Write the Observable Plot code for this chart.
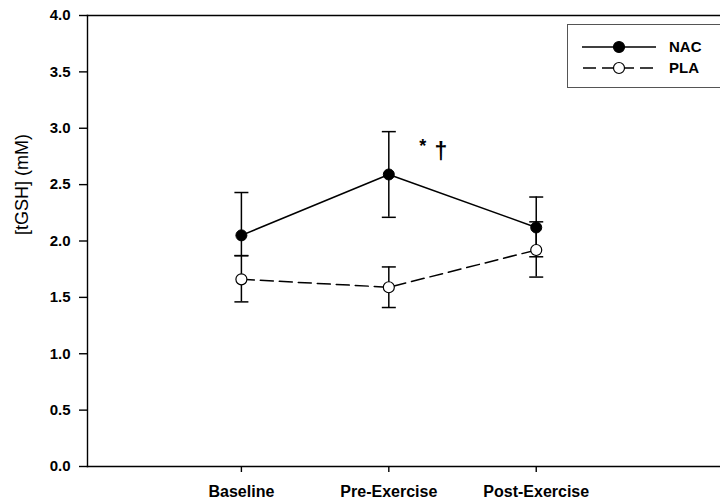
<!DOCTYPE html>
<html>
<head>
<meta charset="utf-8">
<script src="https://cdn.jsdelivr.net/npm/d3@7"></script>
<script src="https://cdn.jsdelivr.net/npm/@observablehq/plot@0.6"></script>
<style>
  html, body { margin: 0; padding: 0; background: #fff; overflow: hidden; }
  #wrap { position: relative; width: 720px; height: 504px; font-family: "Liberation Sans", Arial, sans-serif; }
  #legend { position: absolute; left: 567px; top: 24px; width: 170px; height: 64px; border: 1px solid #555; background: #fff; box-sizing: border-box; }
  #legend .row { position: absolute; left: 0; height: 20px; }
  #legend .lab { position: absolute; left: 101px; font-weight: bold; font-size: 15px; color: #000; line-height: 20px; }
</style>
</head>
<body>
<div id="wrap"></div>
<script>
// ---- data ----
const categories = ["Baseline", "Pre-Exercise", "Post-Exercise"];
const nacMean  = [2.05, 2.59, 2.12];
const nacUpper = [2.43, 2.97, 2.39];
const nacLower = [1.87, 2.21, 1.86];
const plaMean  = [1.66, 1.59, 1.92];
const plaUpper = [1.87, 1.77, 2.17];
const plaLower = [1.46, 1.41, 1.68];
const yTicks = [0, 0.5, 1, 1.5, 2, 2.5, 3, 3.5, 4];
const seriesNames = ["NAC", "PLA"];
const yLabel = "[tGSH] (mM)";
const annotations = [
  {cat: "Pre-Exercise", y: 2.84, text: "*", size: 18},
  {cat: "Pre-Exercise", y: 2.79, text: "†", size: 23}
];

// ---- build tables ----
const idx = c => categories.indexOf(c) + 1;
const nac = categories.map((c, i) => ({x: i + 1, y: nacMean[i], lo: nacLower[i], hi: nacUpper[i]}));
const pla = categories.map((c, i) => ({x: i + 1, y: plaMean[i], lo: plaLower[i], hi: plaUpper[i]}));
const ann = annotations.map(a => ({...a, x: idx(a.cat)}));

const capSymbol = {
  draw(ctx, size) {
    const w = Math.sqrt(size / Math.PI);
    ctx.moveTo(-w, 0);
    ctx.lineTo(w, 0);
  }
};

const sw = 1.5;
function errorMarks(data) {
  return [
    Plot.ruleX(data, {x: "x", y1: "lo", y2: "hi", stroke: "#000", strokeWidth: sw}),
    Plot.dot(data, {x: "x", y: "hi", symbol: capSymbol, r: 7, stroke: "#000", strokeWidth: sw, fill: "none"}),
    Plot.dot(data, {x: "x", y: "lo", symbol: capSymbol, r: 7, stroke: "#000", strokeWidth: sw, fill: "none"})
  ];
}

const chart = Plot.plot({
  width: 720,
  height: 504,
  marginLeft: 87,
  marginRight: 0,
  marginTop: 15,
  marginBottom: 38,
  style: {fontFamily: "'Liberation Sans', Arial, sans-serif", fontSize: "15px", color: "#000", background: "#fff"},
  x: {type: "linear", domain: [-0.044, 4.25]},
  y: {domain: [0, 4]},
  marks: [
    Plot.frame({anchor: "left", stroke: "#000", strokeWidth: 1.4}),
    Plot.frame({anchor: "top", stroke: "#000", strokeWidth: 1.4}),
    Plot.frame({anchor: "bottom", stroke: "#000", strokeWidth: 1.4}),
    Plot.axisY({ticks: yTicks, tickFormat: d3.format(".1f"), tickSize: 8, tickPadding: 9, fontWeight: "bold", fontSize: 15, label: null, strokeWidth: 1.4}),
    Plot.axisX({ticks: [1, 2, 3], tickFormat: i => categories[i - 1], tickSize: 6, tickPadding: 13, fontWeight: "bold", fontSize: 16, label: null, strokeWidth: 1.4}),
    Plot.text([yLabel], {text: d => d, frameAnchor: "left", rotate: -90, dx: -65, dy: -6, fontSize: 18}),
    ...errorMarks(pla),
    ...errorMarks(nac),
    Plot.line(nac, {x: "x", y: "y", stroke: "#000", strokeWidth: sw}),
    Plot.line(pla, {x: "x", y: "y", stroke: "#000", strokeWidth: sw, strokeDasharray: "13,6"}),
    Plot.dot(pla, {x: "x", y: "y", r: 5.5, fill: "#fff", stroke: "#000", strokeWidth: 1.2}),
    Plot.dot(nac, {x: "x", y: "y", r: 5.5, fill: "#000", stroke: "#000", strokeWidth: 1}),
    Plot.text(ann.filter(a => a.text === "*"), {x: "x", y: "y", text: "text", dx: 34, fontSize: 18, fontWeight: "bold"}),
    Plot.text(ann.filter(a => a.text !== "*"), {x: "x", y: "y", text: "text", dx: 52, fontSize: 23, fontWeight: "bold"})
  ]
});

const wrap = document.getElementById("wrap");
wrap.appendChild(chart);

// ---- legend ----
const legend = document.createElement("div");
legend.id = "legend";
const rows = [
  {name: seriesNames[0], dash: null, fill: "#000", top: 12},
  {name: seriesNames[1], dash: "13,6", fill: "#fff", top: 33}
];
rows.forEach(r => {
  const row = document.createElement("div");
  row.className = "row";
  row.style.top = r.top + "px";
  row.style.width = "95px";
  row.innerHTML =
    `<svg width="95" height="20" style="position:absolute;left:0;top:0">
      <line x1="14" x2="88" y1="10" y2="10" stroke="#000" stroke-width="1.5" ${r.dash ? `stroke-dasharray="${r.dash}" stroke-dashoffset="-1"` : ""}/>
      <circle cx="51" cy="10" r="5.5" fill="${r.fill}" stroke="#000" stroke-width="1.2"/>
    </svg>`;
  legend.appendChild(row);
  const lab = document.createElement("div");
  lab.className = "lab";
  lab.style.top = r.top + "px";
  lab.textContent = r.name;
  legend.appendChild(lab);
});
wrap.appendChild(legend);
</script>
</body>
</html>
